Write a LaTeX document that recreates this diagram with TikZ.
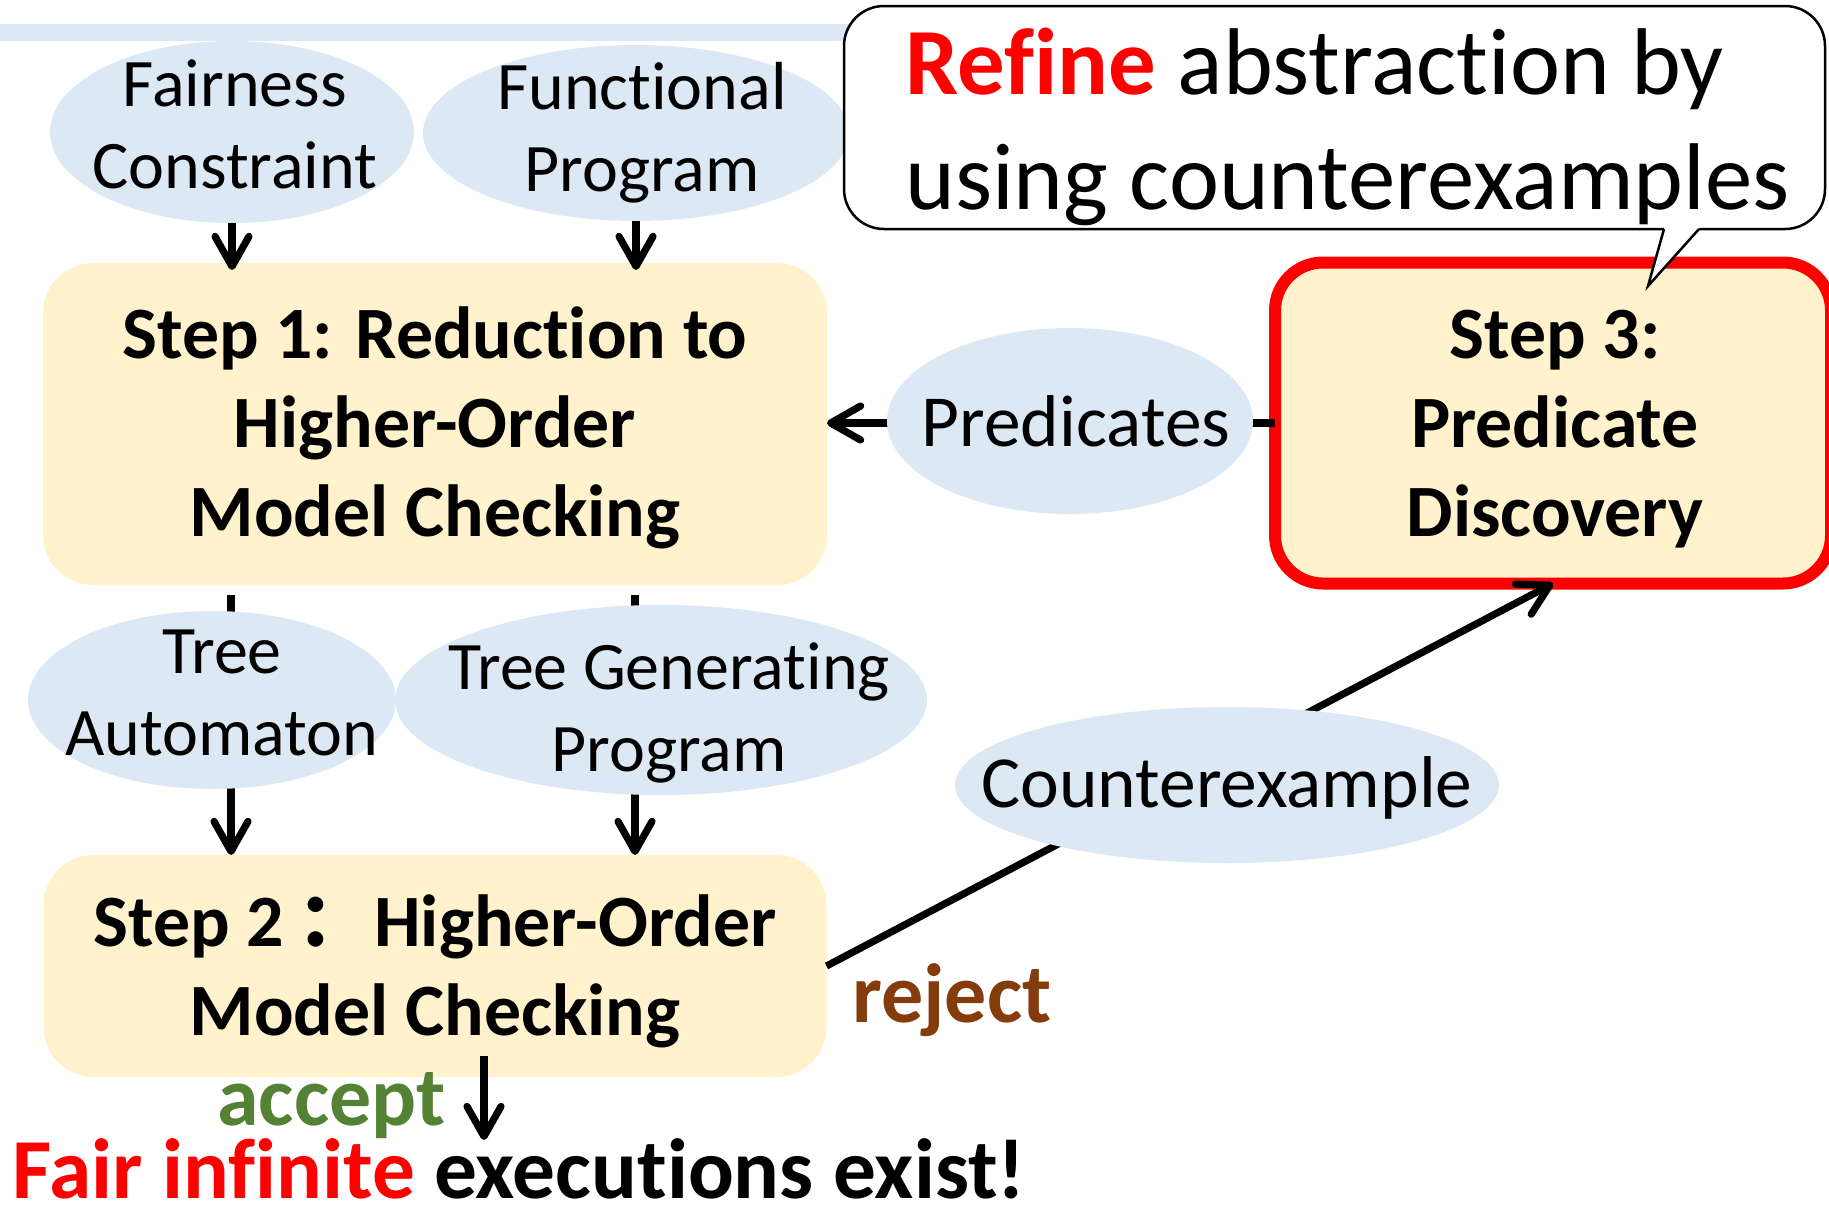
\documentclass[tikz,border=0pt]{standalone}
\usepackage{fontspec}
\setmainfont{Carlito}[Ligatures=NoCommon]
\newfontfamily\cjk{Noto Sans CJK SC}
\usetikzlibrary{shapes.geometric,arrows.meta}
\definecolor{bubblefill}{HTML}{DDE8F5}
\definecolor{stepfill}{HTML}{FFF2CC}
\definecolor{alertred}{HTML}{FF0000}
\definecolor{acceptgreen}{HTML}{548235}
\definecolor{rejectbrown}{HTML}{843C0C}
\tikzset{
  stepbox/.style={rectangle, fill=stepfill, rounded corners=25pt, inner sep=0pt, outer sep=0pt},
  bubble/.style={ellipse, fill=bubblefill, inner sep=0pt, outer sep=0pt},
  steptext/.style={font=\fontsize{36.9}{44.5}\selectfont\bfseries, align=center, inner sep=0pt},
  bubbletext/.style={font=\fontsize{34}{41}\selectfont, align=center, inner sep=0pt},
  bigbubbletext/.style={font=\fontsize{36.7}{44}\selectfont, inner sep=0pt},
  verdict/.style={font=\fontsize{42}{50}\selectfont\bfseries, inner sep=0pt},
  arr/.style={line width=3.6pt, -{Straight Barb[length=15pt,width=17pt,round]}},
}
\begin{document}
\begin{tikzpicture}[x=0.5pt,y=-0.5pt]
\useasboundingbox (0,0) rectangle (1829,1206);

% header strip
\fill[bubblefill] (0,24) rectangle (900,41);

% the three steps
\node[stepbox, minimum width=392pt, minimum height=161pt] (s1) at (435,424) {};
\node[stepbox, minimum width=391.5pt, minimum height=111pt] (s2) at (435,966) {};
\node[stepbox, draw=alertred, line width=6pt, rounded corners=24pt,
      minimum width=278pt, minimum height=160.5pt] (s3) at (1553,423) {};

% connectors that run underneath the data bubbles
\draw[arr] (s3.west) -- (s3.west -| s1.east);
\draw[arr] ([xshift=-102pt,yshift=-5pt]s1.south) -- ([xshift=-102pt]s2.north);
\draw[arr] ([xshift=100pt,yshift=-5pt]s1.south) -- ([xshift=100pt]s2.north);
\draw[arr] (s2.east) -- (s3.south);

% data bubbles
\node[bubble, minimum width=182pt, minimum height=91pt] (fc) at (232,132) {};
\node[bubble, minimum width=213pt, minimum height=88pt] (fp) at (636,133) {};
\node[bubble, minimum width=183pt, minimum height=93pt] (pr) at (1070,421) {};
\node[bubble, minimum width=184pt, minimum height=89pt] (ta) at (212,700) {};
\node[bubble, minimum width=266pt, minimum height=95pt] (tg) at (661,700) {};
\node[bubble, minimum width=272pt, minimum height=78pt] (ce) at (1227,785) {};

% inputs of step 1
\draw[arr] (fc.south) -- ([yshift=-3.5pt]fc.south |- s1.north);
\draw[arr] (fp.south) -- ([yshift=-3.5pt]fp.south |- s1.north);

% texts (multi-line nodes are anchored on the baseline of their last line)
\node[bubbletext, anchor=base] (fct) at (235,188) {Fairness\\Constraint};
\node[bubbletext, anchor=base] (fpt) at (642,191) {Functional\\Program};
\node[bigbubbletext, anchor=base] (prt) at (1076,446) {Predicates};
\node[bubbletext, anchor=base] (tat) at (222,755) {Tree\\Automaton};
\node[bubbletext, anchor=base] (tgt) at (669,771) {Tree Generating\\Program};
\node[bigbubbletext, anchor=base] (cet) at (1227,807) {Counterexample};

\node[steptext, anchor=base] (s1t) at (435,536) {Step 1: Reduction to\\Higher-Order\\Model Checking};
\node[steptext, anchor=base] (s2t) at (435,1035) {Step 2\kern7pt{\cjk\bfseries ：}\kern-7pt{} Higher-Order\\Model Checking};
\node[steptext, anchor=base] (s3t) at (1555,536) {Step 3:\\Predicate\\Discovery};

\node[verdict, text=rejectbrown, anchor=base west] (rej) at (852,1022) {reject};
\node[verdict, text=acceptgreen, anchor=base west] (acc) at (217,1125) {accept};
\node[verdict, font=\fontsize{42.7}{50}\selectfont\bfseries, anchor=base west] (fie) at (12,1198)
  {\textcolor{alertred}{Fair infinite} executions exist!};

% result of a successful check
\coordinate (accend) at (484,1140);
\draw[arr] ([xshift=24.5pt,yshift=10.5pt]s2.south) -- (accend);

% speech bubble attached to step 3
\node[rectangle, draw=black, fill=white, line width=1.25pt, rounded corners=20pt,
      minimum width=490.5pt, minimum height=111.5pt, inner sep=0pt] (callout) at (1334.5,117.5) {};
\coordinate (tip) at (1648,286);
\fill[white] (1664,224) -- (1664,229) -- (tip) -- (1699,229) -- (1699,224) -- cycle;
\draw[line width=1.25pt] (1664,229) -- (tip) -- (1699,229);
\node[font=\fontsize{47.4}{57.5}\selectfont, align=left, anchor=base west, inner sep=0pt] (callt)
  at (905,209) {\textcolor{alertred}{\bfseries Refine} abstraction by\\using counterexamples};
\end{tikzpicture}
\end{document}
